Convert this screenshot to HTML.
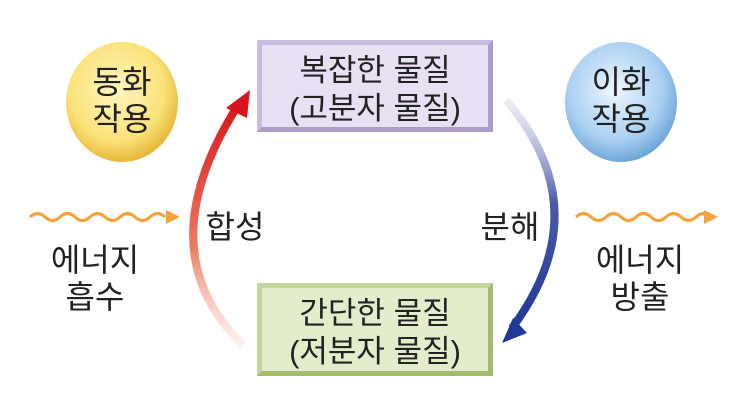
<!DOCTYPE html>
<html><head><meta charset="utf-8"><style>
body{margin:0;width:743px;height:416px;background:#fff;overflow:hidden;font-family:"Liberation Sans","Noto Sans CJK KR",sans-serif;}
.t{position:absolute;color:#222;font-size:32px;text-align:center;line-height:37px;}
.box{position:absolute;box-sizing:border-box;text-align:center;font-size:31px;line-height:38px;color:#222;padding-top:7px;}
</style></head><body>
<svg width="743" height="416" style="position:absolute;left:0;top:0">
<defs>
<radialGradient id="gy" cx="45%" cy="40%" r="60%"><stop offset="0" stop-color="#fff6c0"/><stop offset=".7" stop-color="#fbe27a"/><stop offset="1" stop-color="#e6b93a"/></radialGradient>
<radialGradient id="gb" cx="45%" cy="40%" r="60%"><stop offset="0" stop-color="#eef6ff"/><stop offset=".7" stop-color="#a9d0f2"/><stop offset="1" stop-color="#6fa6d9"/></radialGradient>
<linearGradient id="gr" x1="0" y1="1" x2="0" y2="0"><stop offset="0" stop-color="#f6d0c8" stop-opacity=".3"/><stop offset=".4" stop-color="#ee7a60"/><stop offset="1" stop-color="#d9141c"/></linearGradient>
<linearGradient id="gbl" x1="0" y1="0" x2="0" y2="1"><stop offset="0" stop-color="#d6d6ea" stop-opacity=".4"/><stop offset=".45" stop-color="#4a5aa8"/><stop offset="1" stop-color="#1f3796"/></linearGradient>
</defs>
<ellipse cx="122" cy="102" rx="56" ry="60" fill="url(#gy)"/>
<ellipse cx="621" cy="102" rx="56" ry="60" fill="url(#gb)"/>
<path d="M243 345 Q145 250 240 102" fill="none" stroke="url(#gr)" stroke-width="8"/>
<polygon points="250,90 226,108 247,118" fill="#d9141c"/>
<path d="M506 100 Q600 210 512 328" fill="none" stroke="url(#gbl)" stroke-width="8"/>
<polygon points="502,343 513,318 527,333" fill="#1f3796"/>
<path d="M30 217 q7.5 -7 15 0 t15 0 t15 0 t15 0 t15 0 t15 0 t15 0 t15 0 t15 0" fill="none" stroke="#f5a23a" stroke-width="3"/>
<polygon points="180,217 166,210 166,224" fill="#f5a23a"/>
<path d="M576 217 q7.5 -7 15 0 t15 0 t15 0 t15 0 t15 0 t15 0 t15 0 t15 0 t15 0" fill="none" stroke="#f5a23a" stroke-width="3"/>
<polygon points="718,217 704,210 704,224" fill="#f5a23a"/>
</svg>
<div class="box" style="left:257px;top:40px;width:236px;height:92px;background:#e8e0f3;border:5px solid #c8bde0;border-right-color:#a99cc8;border-bottom-color:#a99cc8;">복잡한 물질<br>(고분자 물질)</div>
<div class="box" style="left:257px;top:283px;width:236px;height:93px;background:#e3edcc;border:5px solid #c4d69a;border-right-color:#a4bb6c;border-bottom-color:#a4bb6c;">간단한 물질<br>(저분자 물질)</div>
<div class="t" style="left:72px;top:64px;width:100px;">동화<br>작용</div>
<div class="t" style="left:571px;top:64px;width:100px;">이화<br>작용</div>
<div class="t" style="left:195px;top:209px;width:80px;">합성</div>
<div class="t" style="left:470px;top:209px;width:80px;">분해</div>
<div class="t" style="left:40px;top:242px;width:110px;">에너지<br>흡수</div>
<div class="t" style="left:585px;top:242px;width:110px;">에너지<br>방출</div>
</body></html>
